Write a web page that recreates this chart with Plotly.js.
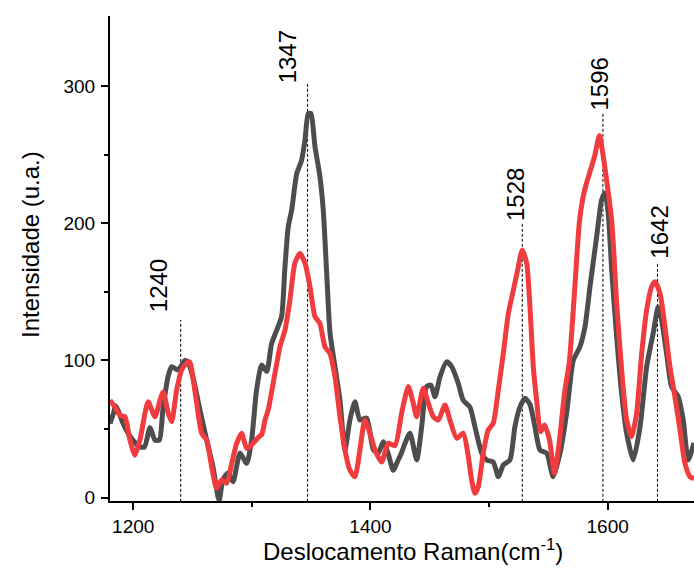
<!DOCTYPE html>
<html>
<head>
<meta charset="utf-8">
<script src="https://cdn.plot.ly/plotly-3.0.1.min.js"></script>
<style>html,body{margin:0;padding:0;background:#fff;}#chart{width:694px;height:577px;}</style>
</head>
<body>
<div id="chart"></div>
<script>
// Grey spectrum
const greyX = [1180.4,1183.5,1185,1187,1191,1194.4,1199.7,1205.6,1209.5,1214.1,1218.3,1222,1225.0,1229.3,1232.4,1237.7,1243.6,1246,1250.3,1256.2,1261.9,1267.2,1271.4,1272.5,1275.6,1279.8,1284.1,1290.0,1295.6,1299.8,1304.0,1308.3,1312.5,1316.7,1320.9,1325.1,1327.9,1330.7,1333.6,1337.8,1342.0,1344.8,1347.6,1349.8,1353.2,1357.4,1360.2,1363.1,1365.9,1370.1,1374.3,1378.5,1382.7,1386.9,1391.1,1396.8,1402.4,1406.6,1410.8,1415,1419.2,1423.4,1425.9,1429.1,1433.3,1439.0,1443.2,1447.4,1451.0,1454.4,1458.6,1464.2,1468.5,1474.0,1478.2,1483.9,1488.1,1493.8,1498.0,1503.5,1507.8,1512.0,1517.6,1521.8,1526.0,1530.3,1534.5,1538.7,1542.9,1548.6,1554.1,1559.8,1565.4,1571.0,1576.6,1580.9,1585.1,1590.7,1594.9,1597.7,1600.5,1603.4,1607.6,1611.8,1616.0,1621.6,1627.3,1632.9,1638.4,1642.7,1645.5,1649.7,1653.9,1659.5,1663.7,1667.9,1672.8];
const greyY = [54,62,67,64,55,49,42,37,37,51,42,42,64,88,95.5,93,100,99,88,64,42,22.6,0.7,-2,13,18,11.7,32.5,25,42,78.5,96.7,92,112.5,122,132,168,197.5,209.7,236,246,260.7,280,280,256,234,209.7,163.5,120,95.5,71,35,56.6,70,56.6,58,35,32.5,40.8,32,20,27.5,32,39.6,47,27.5,51.7,81,82,73.6,88,99,95.5,83.4,71,66,51.7,32.4,27.5,26,15.3,23.8,27.5,51.7,66,72.4,68,51.7,34.8,32.4,15.3,32.4,61.5,100,110,124.6,153.8,190,217,222,207,166,117,76,47,27.5,51.7,95.5,120,139,129.5,105,81,73.6,56.6,27.5,40];

// Red spectrum
const redX = [1180.4,1184.6,1188.8,1193.0,1197.2,1201.4,1205.6,1209.9,1212.6,1218.3,1222.5,1225.3,1229.5,1232.4,1236.6,1240.8,1245.0,1247.8,1250.6,1253.5,1257.7,1261.9,1266.1,1270.3,1274.5,1278.8,1283.0,1287.2,1291.4,1295.6,1299.8,1305.4,1308.3,1311.1,1313.8,1319.5,1323.7,1327.9,1332.1,1336.3,1340.5,1344.8,1349.0,1353.2,1357.4,1361.6,1365.9,1370.1,1374.3,1378.5,1382.7,1386.9,1391.1,1395.3,1399.6,1403.8,1409.4,1415.0,1420.7,1426.3,1431.9,1436.1,1439.0,1444.5,1448.8,1453.0,1457.2,1462.8,1467.0,1472.7,1478.2,1482.5,1485.3,1488.1,1490.9,1495.1,1499.3,1503.5,1507.8,1512.0,1516.2,1520.4,1524.6,1528.0,1531.7,1534.5,1537.3,1540.1,1543.5,1546.8,1551.0,1555.2,1559.4,1563.6,1567.8,1572.0,1576.3,1580.5,1584.7,1588.9,1593.1,1595.9,1603.4,1607.6,1611.8,1616.0,1620.2,1624.4,1628.7,1632.9,1637.1,1639.9,1644.1,1648.3,1652.5,1656.7,1661.0,1665.2,1669.4,1672.8];
const redY = [71,66,60,59,42,31,42,61.5,70,59,71,77,61.5,55.4,78.5,93,98,99,85.8,68.8,47,42,22.6,6.8,13,10.5,25,39.6,47,36,38.4,44,46,56.6,64,90.7,110,122,144,171,178,171,153.8,132,127,110,105,88,59,34.8,20,15.3,34.8,56.6,47,34.8,26,39.6,38,61.5,81,68.8,59,79.7,68.8,59,56.6,67.6,56.6,43.3,47,30,13,3.2,8,32.4,49.3,54.2,78.5,105,134,151,168,180.5,171,139,95.5,71,48,53,42,17.8,42,76,100,149,202,224,236.4,248.5,264,251,202,141.7,93,56.6,44.5,61.5,105,136.8,153.8,157.4,149,124.6,95.5,73.6,49.3,25,15.3,14];

// Peak markers
const peakX = [1240, 1347, 1528, 1596, 1642];
const peakTop = [129.5, 302, 200, 281, 172];
const peakLabels = ['1240', '1347', '1528', '1596', '1642'];
const labelShift = [-22, -20, -7, -3, 2];
const labelLift = [6, -2, 0, 0, 1];

const xTickVals = [1200, 1400, 1600];
const yTickVals = [0, 100, 200, 300];

const FONT = 'Liberation Sans, Arial, sans-serif';

const traces = [
  {x: greyX, y: greyY, type: 'scatter', mode: 'lines',
   line: {color: '#4d4d4d', width: 5, shape: 'spline', smoothing: 0.6}, hoverinfo: 'skip'},
  {x: redX, y: redY, type: 'scatter', mode: 'lines',
   line: {color: '#f03b3f', width: 5, shape: 'spline', smoothing: 0.6}, hoverinfo: 'skip'}
];

const shapes = peakX.map((px, i) => ({
  type: 'line', xref: 'x', yref: 'y', x0: px, x1: px, y0: -3, y1: peakTop[i],
  line: {color: '#000', width: 1, dash: '3px,2px'}, layer: 'below'
}));

const annotations = peakX.map((px, i) => ({
  x: px, y: peakTop[i], xref: 'x', yref: 'y', text: peakLabels[i],
  showarrow: false, textangle: -90, xanchor: 'center', yanchor: 'bottom',
  xshift: labelShift[i], yshift: labelLift[i],
  font: {family: FONT, size: 24, color: '#000'}
}));

annotations.push({
  xref: 'paper', yref: 'paper', x: (30 - 110) / 584, y: (501 - 245) / 485,
  text: 'Intensidade (u.a.)', showarrow: false, textangle: -90,
  xanchor: 'center', yanchor: 'middle',
  font: {family: FONT, size: 24, color: '#000'}
});
annotations.push({
  xref: 'paper', yref: 'paper', x: (413 - 110) / 584, y: (501 - 550) / 485,
  text: 'Deslocamento Raman(cm<sup>-1</sup>)', showarrow: false,
  xanchor: 'center', yanchor: 'middle',
  font: {family: FONT, size: 24, color: '#000'}
});

const layout = {
  width: 694, height: 577,
  margin: {l: 110, r: 0, t: 16, b: 76, pad: 0},
  paper_bgcolor: '#fff', plot_bgcolor: '#fff',
  showlegend: false,
  font: {family: FONT, color: '#000'},
  xaxis: {
    range: [1180.4, 1672.8], tickvals: xTickVals, ticktext: xTickVals.map(String),
    ticks: 'outside', ticklen: 7, tickwidth: 2, tickcolor: '#000',
    showline: true, linewidth: 2, linecolor: '#000', mirror: false,
    showgrid: false, zeroline: false,
    minor: {tickvals: [1300, 1500], ticks: 'outside', ticklen: 4, tickwidth: 2, tickcolor: '#000', showgrid: false},
    tickfont: {family: FONT, size: 19, color: '#000'}
  },
  yaxis: {
    range: [-2.4, 351], tickvals: yTickVals, ticktext: yTickVals.map(String),
    ticks: 'outside', ticklen: 7, tickwidth: 2, tickcolor: '#000',
    ticklabelstandoff: 2,
    showline: true, linewidth: 2, linecolor: '#000', mirror: false,
    showgrid: false, zeroline: false,
    minor: {tickvals: [50, 150, 250], ticks: 'outside', ticklen: 4, tickwidth: 2, tickcolor: '#000', showgrid: false},
    tickfont: {family: FONT, size: 19, color: '#000'}
  },
  shapes: shapes,
  annotations: annotations
};

Plotly.newPlot('chart', traces, layout, {displayModeBar: false, staticPlot: true});
</script>
</body>
</html>
